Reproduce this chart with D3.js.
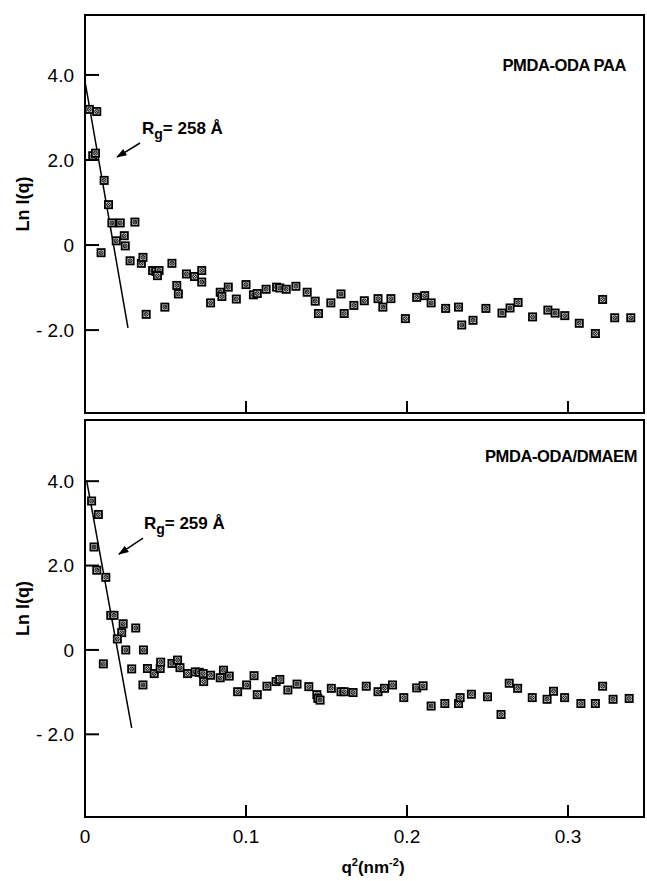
<!DOCTYPE html>
<html>
<head>
<meta charset="utf-8">
<script src="https://cdn.jsdelivr.net/npm/d3@7"></script>
<style>
  body { margin: 0; background: #fff; }
  svg { display: block; font-family: 'Liberation Sans', Arial, sans-serif; }
</style>
</head>
<body>
<svg id="chart" width="647" height="881"></svg>
<script>
// q^2 (nm^-2), ln I(q) -- PMDA-ODA PAA
const paaQ2 = [0.0027, 0.0073, 0.0048, 0.0065, 0.0119, 0.0146, 0.0167, 0.0219, 0.031, 0.0244,
  0.0194, 0.025, 0.010, 0.028, 0.035, 0.036, 0.038, 0.042, 0.044, 0.046,
  0.045, 0.0496, 0.054, 0.057, 0.058, 0.063, 0.068, 0.0725, 0.0725, 0.078,
  0.084, 0.085, 0.089, 0.094, 0.100, 0.1046, 0.107, 0.1125, 0.119, 0.121,
  0.125, 0.131, 0.138, 0.143, 0.145, 0.1527, 0.159, 0.161, 0.167, 0.1735,
  0.182, 0.185, 0.190, 0.199, 0.206, 0.211, 0.215, 0.224, 0.232, 0.234,
  0.241, 0.249, 0.259, 0.264, 0.269, 0.278, 0.2875, 0.292, 0.298, 0.307,
  0.317, 0.3215, 0.329, 0.339];
const paaLnI = [3.19, 3.14, 2.10, 2.16, 1.52, 0.95, 0.52, 0.52, 0.54, 0.22,
  0.10, -0.02, -0.18, -0.37, -0.43, -0.29, -1.63, -0.60, -0.62, -0.60,
  -0.72, -1.46, -0.43, -0.95, -1.15, -0.68, -0.74, -0.60, -0.87, -1.36,
  -1.11, -1.21, -0.99, -1.27, -0.93, -1.17, -1.14, -1.04, -0.99, -1.01,
  -1.04, -0.97, -1.11, -1.32, -1.61, -1.36, -1.15, -1.61, -1.42, -1.31,
  -1.26, -1.46, -1.26, -1.73, -1.23, -1.19, -1.36, -1.49, -1.46, -1.88,
  -1.77, -1.49, -1.60, -1.48, -1.35, -1.69, -1.53, -1.60, -1.66, -1.84,
  -2.08, -1.28, -1.71, -1.71];

// PMDA-ODA/DMAEM
const dmaemQ2 = [0.0041, 0.0083, 0.0056, 0.0073, 0.0129, 0.016, 0.018, 0.0237, 0.0315, 0.0228,
  0.0201, 0.0253, 0.0363, 0.0114, 0.029, 0.0388, 0.043, 0.0467, 0.047, 0.036,
  0.054, 0.0575, 0.059, 0.0637, 0.0685, 0.071, 0.0734, 0.0737, 0.078, 0.084,
  0.086, 0.0896, 0.0948, 0.1004, 0.105, 0.107, 0.113, 0.1187, 0.121, 0.126,
  0.1317, 0.139, 0.144, 0.1446, 0.146, 0.153, 0.159, 0.161, 0.1665, 0.1747,
  0.182, 0.186, 0.191, 0.198, 0.206, 0.210, 0.215, 0.2235, 0.232, 0.233,
  0.240, 0.250, 0.2584, 0.2635, 0.2687, 0.2778, 0.287, 0.291, 0.2979, 0.308,
  0.317, 0.3215, 0.328, 0.338];
const dmaemLnI = [3.53, 3.21, 2.44, 1.89, 1.72, 0.82, 0.82, 0.62, 0.52, 0.41,
  0.26, 0.0, 0.0, -0.33, -0.45, -0.44, -0.56, -0.44, -0.29, -0.83,
  -0.32, -0.24, -0.42, -0.56, -0.52, -0.53, -0.56, -0.75, -0.60, -0.66,
  -0.48, -0.62, -0.99, -0.83, -0.61, -1.06, -0.86, -0.75, -0.70, -0.95,
  -0.81, -0.87, -1.06, -1.15, -1.19, -0.91, -0.99, -0.99, -1.01, -0.86,
  -0.99, -0.91, -0.83, -1.13, -0.90, -0.85, -1.33, -1.27, -1.27, -1.13,
  -1.05, -1.11, -1.53, -0.79, -0.91, -1.13, -1.17, -0.98, -1.13, -1.27,
  -1.27, -0.86, -1.17, -1.15];

// Guinier fit lines (start / end), in data units
const paaFitQ2 = [0.0, 0.0267];
const paaFitLnI = [3.85, -1.95];
const dmaemFitQ2 = [0.0012, 0.029];
const dmaemFitLnI = [3.98, -1.85];

const yTicks = [4, 2, 0, -2];
const yTickLabels = ['4.0', '2.0', '0', '- 2.0'];
const xTicks = [0, 0.1, 0.2, 0.3];
const xTickLabels = ['0', '0.1', '0.2', '0.3'];

const panels = [
  { title: 'PMDA-ODA PAA', rg: '258', q2: paaQ2, lnI: paaLnI, fitQ2: paaFitQ2, fitLnI: paaFitLnI,
    top: 15, bottom: 413, yDomain: [-3.95, 5.41], titleX: 626, titleY: 71,
    label: [0.0354, 2.62], arrow: [[0.0342, 2.40], [0.0199, 2.07]], xLabels: false },
  { title: 'PMDA-ODA/DMAEM', rg: '259', q2: dmaemQ2, lnI: dmaemLnI, fitQ2: dmaemFitQ2, fitLnI: dmaemFitLnI,
    top: 420, bottom: 817, yDomain: [-3.96, 5.45], titleX: 637, titleY: 462,
    label: [0.0366, 2.87], arrow: [[0.036, 2.65], [0.0211, 2.27]], xLabels: true }
];

const left = 85, right = 644;
const svg = d3.select('#chart');

svg.append('defs').append('marker')
  .attr('id', 'head')
  .attr('viewBox', '0 0 10 10')
  .attr('refX', 9).attr('refY', 5)
  .attr('markerWidth', 7).attr('markerHeight', 7)
  .attr('orient', 'auto')
  .append('path')
  .attr('d', 'M0,1.5 L10,5 L0,8.5 Z')
  .attr('fill', '#000');

const x = d3.scaleLinear().domain([0, (right - left) / 1610]).range([left, right]);

panels.forEach(p => {
  const y = d3.scaleLinear().domain(p.yDomain).range([p.bottom, p.top]);
  const g = svg.append('g');

  // frame
  g.append('rect')
    .attr('x', left).attr('y', p.top)
    .attr('width', right - left).attr('height', p.bottom - p.top)
    .attr('fill', 'none').attr('stroke', '#000').attr('stroke-width', 2);

  // y ticks (inside) and labels
  g.selectAll('.ytick')
    .data(yTicks)
    .join('line')
    .attr('x1', left).attr('x2', left + 14)
    .attr('y1', d => y(d)).attr('y2', d => y(d))
    .attr('stroke', '#000').attr('stroke-width', 2);

  g.selectAll('.ylab')
    .data(yTicks)
    .join('text')
    .attr('x', left - 11)
    .attr('y', d => y(d))
    .attr('dy', '0.36em')
    .attr('text-anchor', 'end')
    .style('font-size', '19px')
    .text((d, i) => yTickLabels[i]);

  // x ticks (inside)
  g.selectAll('.xtick')
    .data(xTicks.filter(d => d > 0))
    .join('line')
    .attr('x1', d => x(d)).attr('x2', d => x(d))
    .attr('y1', p.bottom).attr('y2', p.bottom - 12)
    .attr('stroke', '#000').attr('stroke-width', 2);

  if (p.xLabels) {
    g.selectAll('.xlab')
      .data(xTicks)
      .join('text')
      .attr('x', d => x(d))
      .attr('y', p.bottom + 26)
      .attr('text-anchor', 'middle')
      .style('font-size', '19px')
      .text((d, i) => xTickLabels[i]);
  }

  // y axis title
  g.append('text')
    .attr('transform', `translate(29,${(p.top + p.bottom) / 2 - 10}) rotate(-90)`)
    .attr('text-anchor', 'middle')
    .style('font-size', '18px')
    .style('font-weight', 'bold')
    .text('Ln I(q)');

  // panel title
  g.append('text')
    .attr('x', p.titleX).attr('y', p.titleY)
    .attr('text-anchor', 'end')
    .style('font-size', '16.5px')
    .style('font-weight', 'bold')
    .style('letter-spacing', '-0.4px')
    .text(p.title);

  // fit line
  g.append('line')
    .attr('x1', x(p.fitQ2[0])).attr('y1', y(p.fitLnI[0]))
    .attr('x2', x(p.fitQ2[1])).attr('y2', y(p.fitLnI[1]))
    .attr('stroke', '#000').attr('stroke-width', 1.5);

  // data markers
  const pts = p.q2.map((q, i) => ({ q, v: p.lnI[i] }));
  const m = g.selectAll('.pt')
    .data(pts)
    .join('g')
    .attr('transform', d => `translate(${x(d.q)},${y(d.v)})`);
  m.append('rect')
    .attr('x', -3.6).attr('y', -3.6).attr('width', 7.2).attr('height', 7.2)
    .attr('fill', '#ddd').attr('stroke', '#000').attr('stroke-width', 1.8);
  m.append('circle')
    .attr('r', 1.9).attr('fill', 'none').attr('stroke', '#111').attr('stroke-width', 1);
  m.append('path')
    .attr('d', 'M-1.8,-1.8L1.8,1.8M-1.8,1.8L1.8,-1.8')
    .attr('stroke', '#111').attr('stroke-width', 0.8);

  // Rg annotation
  const lab = g.append('text')
    .attr('x', x(p.label[0])).attr('y', y(p.label[1]))
    .style('font-size', '17px')
    .style('font-weight', 'bold');
  lab.append('tspan').text('R');
  lab.append('tspan').attr('dy', 5).style('font-size', '14px').text('g');
  lab.append('tspan').attr('dy', -5).text('= ' + p.rg + ' Å');

  g.append('line')
    .attr('x1', x(p.arrow[0][0])).attr('y1', y(p.arrow[0][1]))
    .attr('x2', x(p.arrow[1][0])).attr('y2', y(p.arrow[1][1]))
    .attr('stroke', '#000').attr('stroke-width', 1.5)
    .attr('marker-end', 'url(#head)');
});

// x axis title
const xt = svg.append('text')
  .attr('x', 373).attr('y', 873)
  .attr('text-anchor', 'middle')
  .style('font-size', '17px')
  .style('font-weight', 'bold');
xt.append('tspan').text('q');
xt.append('tspan').attr('dy', -7).style('font-size', '11px').text('2');
xt.append('tspan').attr('dy', 7).text('(nm');
xt.append('tspan').attr('dy', -7).style('font-size', '11px').text('-2');
xt.append('tspan').attr('dy', 7).text(')');
</script>
</body>
</html>
